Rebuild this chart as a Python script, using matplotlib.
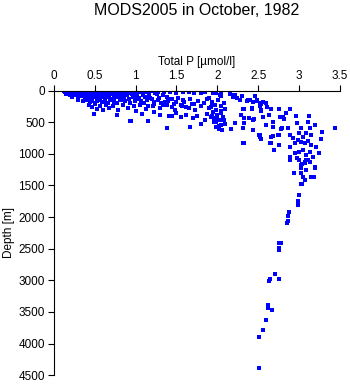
import matplotlib
matplotlib.use("Agg")
import matplotlib.pyplot as plt

plt.rcParams.update({
    "font.family": ["Liberation Sans", "DejaVu Sans"],
    "font.size": 8.5,
})

# (total P [umol/l], depth [m]) samples, grouped by layer
surface_top = [
    (0.12, 2), (0.14, 8), (0.17, 4), (0.19, 10), (0.22, 3), (0.24, 7), (0.26, 12),
    (0.29, 2), (0.31, 9), (0.33, 5), (0.36, 11), (0.38, 3), (0.41, 8), (0.43, 6),
    (0.46, 2), (0.48, 10), (0.51, 4), (0.53, 9), (0.56, 3), (0.59, 7), (0.62, 12),
    (0.65, 5), (0.69, 9), (0.73, 4), (0.78, 11), (0.84, 6), (0.91, 3), (0.97, 8),
    (1.04, 5), (1.13, 10), (1.19, 4),
    (0.13, 25), (0.16, 31), (0.18, 22), (0.21, 38), (0.23, 28), (0.26, 35),
    (0.28, 24), (0.30, 40), (0.33, 29), (0.35, 21), (0.37, 36), (0.40, 27),
    (0.42, 44), (0.45, 33), (0.47, 23), (0.50, 39), (0.52, 30), (0.55, 46),
    (0.57, 26), (0.60, 37), (0.63, 30), (0.66, 48), (0.70, 28), (0.74, 41),
    (0.79, 33), (0.83, 25), (0.88, 45), (0.94, 30), (1.01, 38), (1.08, 26),
    (1.16, 42), (1.24, 31),
]

surface_mid = [
    (0.15, 55), (0.20, 62), (0.24, 52), (0.27, 70), (0.31, 58), (0.34, 75),
    (0.37, 60), (0.40, 66), (0.43, 78), (0.46, 55), (0.49, 71), (0.52, 63),
    (0.55, 84), (0.58, 57), (0.61, 74), (0.64, 66), (0.68, 88), (0.71, 59),
    (0.75, 77), (0.80, 64), (0.85, 82), (0.90, 70), (0.96, 57), (1.02, 79),
    (1.09, 66), (1.17, 85), (1.26, 60), (1.33, 76),
    (0.22, 95), (0.30, 105), (0.35, 92), (0.38, 118), (0.42, 100), (0.45, 125),
    (0.48, 108), (0.51, 96), (0.54, 130), (0.57, 112), (0.60, 99), (0.63, 121),
    (0.67, 105), (0.70, 135), (0.73, 114), (0.77, 97), (0.81, 126), (0.86, 108),
    (0.92, 133), (0.97, 102), (1.04, 120), (1.12, 95), (1.20, 128), (1.29, 110),
    (1.38, 98), (1.45, 125),
    (0.30, 145), (0.36, 160), (0.41, 150), (0.44, 178), (0.47, 158), (0.50, 192),
    (0.53, 166), (0.56, 145), (0.59, 185), (0.62, 160), (0.66, 200), (0.69, 152),
    (0.73, 175), (0.77, 190), (0.82, 148), (0.87, 170), (0.93, 195), (0.99, 158),
    (1.06, 182), (1.14, 150), (1.22, 175), (1.31, 198), (1.40, 160), (1.50, 185),
    (1.58, 150),
    (0.43, 230), (0.47, 260), (0.50, 215), (0.53, 285), (0.57, 245), (0.60, 300),
    (0.64, 225), (0.68, 270), (0.72, 240), (0.78, 310), (0.85, 235), (0.91, 280),
    (0.98, 250), (1.05, 220), (1.13, 295), (1.21, 245), (1.30, 270), (1.39, 225),
    (1.48, 300), (1.57, 240), (1.65, 275), (1.72, 215),
    (0.49, 377), (0.77, 392), (0.94, 478), (0.93, 482),
]

shelf = [
    (1.05, 15), (1.12, 20), (1.20, 12), (1.28, 18), (1.35, 25), (1.42, 15),
    (1.50, 30), (1.58, 20), (1.65, 28), (1.72, 35), (1.80, 40), (1.85, 25),
    (1.95, 45), (2.05, 50), (2.15, 60), (2.22, 70), (2.30, 80), (2.46, 90),
    (1.02, 130), (1.06, 165), (1.10, 200), (1.15, 240), (1.18, 115), (1.23, 205),
    (1.27, 145), (1.33, 235), (1.36, 180), (1.42, 140), (1.44, 260), (1.47, 205),
    (1.52, 120), (1.55, 230), (1.59, 185), (1.62, 265), (1.66, 140), (1.69, 210),
    (1.73, 300), (1.76, 165), (1.80, 240), (1.84, 190), (1.87, 130), (1.90, 280),
    (1.93, 215),
    (1.00, 330), (1.08, 365), (1.15, 482), (1.22, 340), (1.30, 390), (1.39, 598),
    (1.41, 403), (1.45, 403), (1.50, 360), (1.56, 420), (1.62, 380), (1.66, 582),
    (1.70, 440), (1.75, 400), (1.80, 530), (1.85, 460), (1.88, 370), (1.92, 420),
]

thermocline = [
    (1.90, 120), (1.92, 260), (1.94, 180), (1.95, 340), (1.96, 430), (1.97, 220),
    (1.98, 500), (1.99, 300), (2.00, 380), (2.01, 150), (2.02, 560), (2.03, 460),
    (2.04, 250), (2.05, 330), (2.06, 620), (2.07, 410), (2.08, 190), (2.09, 520),
    (2.10, 290), (2.02, 600), (1.98, 580), (2.05, 540), (1.96, 490), (2.08, 460),
    (2.00, 440), (2.04, 360), (1.94, 400),
    (1.99, 44), (2.05, 87), (2.20, 76), (2.24, 119), (2.36, 161), (2.49, 171),
    (2.54, 214), (2.61, 256), (2.75, 297), (2.82, 456), (2.33, 297), (2.43, 297),
    (2.54, 329), (2.63, 392), (2.45, 456), (2.33, 509), (2.22, 509), (2.17, 614),
    (2.51, 709), (2.53, 772), (2.33, 835), (2.66, 826), (2.78, 604), (2.68, 720),
    (2.75, 699), (2.29, 383), (2.39, 435), (2.60, 551), (2.68, 582), (2.77, 414),
    (2.84, 361), (2.32, 835), (2.52, 731),
    (2.03, 71), (2.19, 71), (2.19, 108), (2.40, 150), (2.48, 150), (2.52, 245),
    (2.60, 203),
]

intermediate = [
    (2.28, 150), (2.37, 150), (2.44, 177), (2.52, 203), (2.56, 177), (2.32, 293),
    (2.43, 282), (2.53, 309), (2.66, 298), (2.76, 298), (2.89, 298), (2.33, 430),
    (2.44, 467), (2.56, 414), (2.81, 414), (2.96, 399), (3.12, 399), (2.32, 598),
    (2.44, 625), (2.68, 493), (2.79, 598), (2.87, 588), (2.97, 519), (3.03, 598),
    (3.11, 503), (3.13, 588), (3.19, 546), (2.52, 704), (2.66, 731), (2.74, 704),
    (2.89, 704), (2.93, 756), (3.00, 677), (3.05, 731), (3.09, 677), (3.15, 704),
    (3.28, 661), (3.44, 598), (3.27, 772), (2.33, 835), (2.64, 835), (2.70, 941),
    (2.76, 862), (2.89, 889), (2.95, 835), (2.99, 783), (3.03, 810), (3.07, 835),
    (3.11, 799), (3.15, 862), (3.21, 889), (3.24, 994), (2.89, 1047), (2.95, 994),
    (3.00, 968), (3.05, 941), (3.09, 1020), (3.13, 968), (3.17, 1047), (3.00, 1100),
    (3.07, 1126), (3.11, 1100), (3.04, 1163), (2.98, 1063),
    (2.89, 1100), (3.03, 1179), (3.07, 1152), (3.13, 1126), (3.20, 1215),
    (3.03, 1231), (3.09, 1258), (2.94, 1310), (3.05, 1364), (3.15, 1364),
    (3.18, 1373), (3.07, 1416), (3.03, 1479), (3.17, 1364), (3.03, 1310),
    (3.04, 1479), (3.08, 1100), (3.19, 1231),
]

deep = [
    (3.00, 1653), (2.99, 1743), (2.99, 1807), (2.88, 1927), (2.86, 1985),
    (2.86, 2064), (2.85, 2101), (2.76, 2413), (2.78, 2413), (2.75, 2481),
    (2.75, 2523), (2.71, 2903), (2.65, 2982), (2.63, 3014), (2.75, 2977),
    (2.62, 3398), (2.62, 3430), (2.67, 3477), (2.59, 3620), (2.56, 3778),
    (2.51, 3889), (2.51, 4385),
]

x_ticks = [0, 0.5, 1, 1.5, 2, 2.5, 3, 3.5]
x_tick_labels = ["0", "0.5", "1", "1.5", "2", "2.5", "3", "3.5"]
y_ticks = [0, 500, 1000, 1500, 2000, 2500, 3000, 3500, 4000, 4500]

samples = surface_top + surface_mid + shelf + thermocline + intermediate + deep
total_p = [s[0] for s in samples]
depth = [s[1] for s in samples]

fig = plt.figure(figsize=(3.5, 3.84), dpi=100)
ax = fig.add_axes([0.154, 0.023, 0.817, 0.741])

ax.plot(total_p, depth, "s", color="#0000ff", markersize=2.5,
        markeredgewidth=0, linestyle="none")

ax.set_xlim(0, 3.5)
ax.set_ylim(4500, 0)
ax.xaxis.tick_top()
ax.xaxis.set_label_position("top")
ax.set_xticks(x_ticks)
ax.set_xticklabels(x_tick_labels)
ax.set_yticks(y_ticks)
ax.tick_params(direction="out", length=4.5, width=0.8, pad=2, colors="black")

for side in ["right", "bottom"]:
    ax.spines[side].set_visible(False)
for side in ["left", "top"]:
    ax.spines[side].set_linewidth(0.8)

ax.set_xlabel("Total P [µmol/l]", fontsize=8.5, labelpad=3)
ax.set_ylabel("Depth [m]", fontsize=8.5)
ax.yaxis.set_label_coords(-0.135, 0.5)

fig.text(0.563, 0.972, "MODS2005 in October, 1982", ha="center", va="center",
         fontsize=11.5)

fig.savefig("out.png", dpi=100)
